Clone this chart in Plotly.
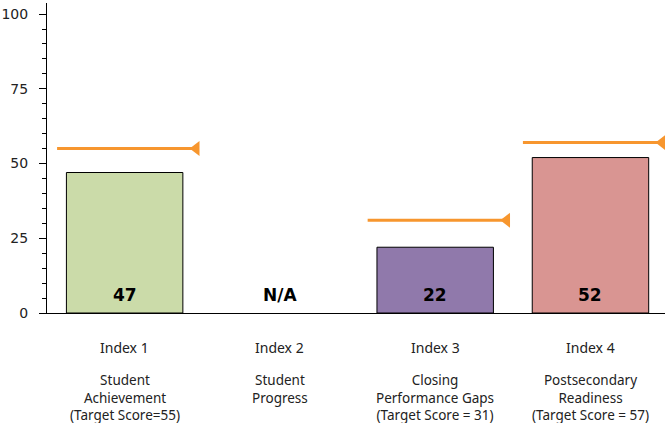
import plotly.graph_objects as go

categories = ["Index 1", "Index 2", "Index 3", "Index 4"]
descriptions = [
    ["Student", "Achievement", "(Target Score=55)"],
    ["Student", "Progress"],
    ["Closing", "Performance Gaps", "(Target Score = 31)"],
    ["Postsecondary", "Readiness", "(Target Score = 57)"],
]
scores = [47, None, 22, 52]
score_labels = ["47", "N/A", "22", "52"]
bar_colors = ["#CBDBA9", "#FFFFFF", "#9079AB", "#D99592"]
target_idx = [0, 2, 3]
targets = [55, 31, 57]

FONT = "DejaVu Sans"
LABEL_FONT = "Noto Sans"
ORANGE = "#F7962E"
xpos = list(range(len(categories)))

fig = go.Figure()
fig.add_trace(go.Bar(
    x=xpos, y=scores, width=0.75,
    marker=dict(color=bar_colors, line=dict(color="black", width=1)),
    showlegend=False, hoverinfo="skip",
))

for i, t in zip(target_idx, targets):
    fig.add_trace(go.Scatter(
        x=[i - 0.435, i + 0.45], y=[t, t], mode="lines",
        line=dict(color=ORANGE, width=3), showlegend=False, hoverinfo="skip",
        cliponaxis=False,
    ))
    fig.add_trace(go.Scatter(
        x=[i + 0.461], y=[t], mode="markers",
        marker=dict(symbol="triangle-left", size=13, color=ORANGE),
        showlegend=False, hoverinfo="skip", cliponaxis=False,
    ))

for i, lab in enumerate(score_labels):
    fig.add_annotation(
        x=i, y=6, text="<b>" + lab + "</b>", showarrow=False,
        font=dict(family=FONT, size=17, color="black"),
    )

# category labels below the axis
for i, name in enumerate(categories):
    fig.add_annotation(
        x=i, xref="x", y=0, yref="paper", yshift=-34, yanchor="middle",
        text=name, showarrow=False,
        font=dict(family=LABEL_FONT, size=14, color="#222"),
    )
    fig.add_annotation(
        x=i, xref="x", y=0, yref="paper", yshift=-56, yanchor="top",
        text="<br>".join(descriptions[i]), showarrow=False,
        font=dict(family=LABEL_FONT, size=13.5, color="#222"),
    )

fig.update_layout(
    width=665, height=423,
    margin=dict(l=47, r=0, t=3, b=110),
    paper_bgcolor="white", plot_bgcolor="white",
    font=dict(family=LABEL_FONT, size=13, color="#222"),
)
fig.update_xaxes(
    range=[-0.5, 3.48], tickvals=xpos, showticklabels=False,
    showline=True, linecolor="black", linewidth=1, ticks="",
    showgrid=False, zeroline=False, automargin=False,
)
fig.update_yaxes(
    range=[0, 103.7], tickvals=[0, 25, 50, 75, 100],
    showline=True, linecolor="black", linewidth=1,
    ticks="outside", ticklen=7, tickcolor="black",
    minor=dict(dtick=5, ticks="outside", ticklen=4, tickcolor="black", showgrid=False),
    showgrid=False, zeroline=False, automargin=False,
    ticklabelstandoff=8,
    tickfont=dict(family=FONT, size=14, color="#222"),
)

fig.write_html(
    "out.html",
    config={"displayModeBar": False},
    post_script="document.body.style.margin='0';document.body.style.overflow='hidden';",
)
